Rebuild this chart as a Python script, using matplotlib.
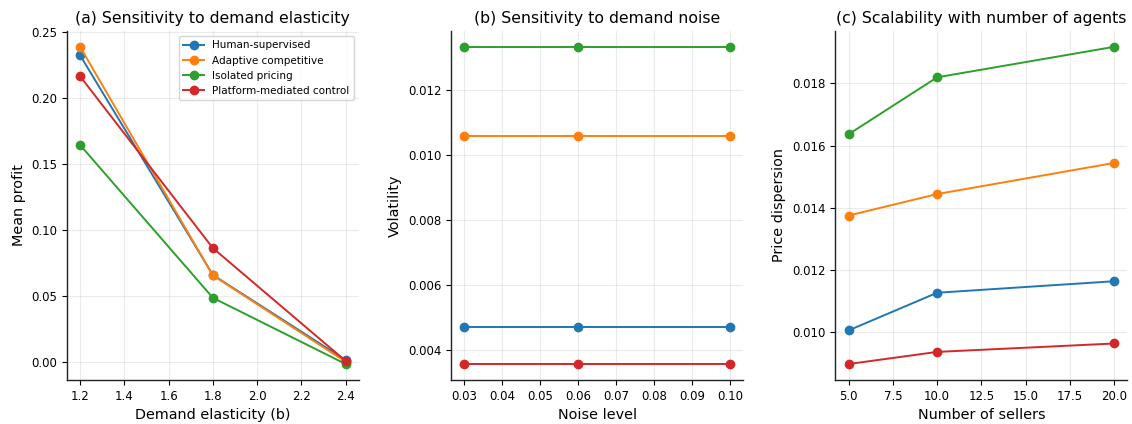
import matplotlib
matplotlib.use("Agg")
import matplotlib.pyplot as plt
from matplotlib.ticker import MultipleLocator

# policies / series names
policies = ["Human-supervised", "Adaptive competitive", "Isolated pricing", "Platform-mediated control"]
colors = ["#1f77b4", "#ff7f0e", "#2ca02c", "#d62728"]

# (a) demand elasticity -> mean profit
elasticity = [1.2, 1.8, 2.4]
profit_human = [0.2326, 0.0660, 0.0015]
profit_adaptive = [0.2390, 0.0657, 0.0002]
profit_isolated = [0.1646, 0.0487, -0.0015]
profit_platform = [0.2167, 0.0864, 0.0008]

# (b) noise level -> volatility
noise = [0.03, 0.06, 0.10]
vol_human = [0.00472, 0.00472, 0.00472]
vol_adaptive = [0.01059, 0.01059, 0.01059]
vol_isolated = [0.01334, 0.01334, 0.01334]
vol_platform = [0.00357, 0.00357, 0.00357]

# (c) number of sellers -> price dispersion
sellers = [5, 10, 20]
disp_human = [0.01006, 0.01127, 0.01164]
disp_adaptive = [0.01375, 0.01444, 0.01544]
disp_isolated = [0.01636, 0.01819, 0.01917]
disp_platform = [0.00898, 0.00937, 0.00964]

panels = [
    ("(a) Sensitivity to demand elasticity", "Demand elasticity (b)", "Mean profit",
     elasticity, [profit_human, profit_adaptive, profit_isolated, profit_platform]),
    ("(b) Sensitivity to demand noise", "Noise level", "Volatility",
     noise, [vol_human, vol_adaptive, vol_isolated, vol_platform]),
    ("(c) Scalability with number of agents", "Number of sellers", "Price dispersion",
     sellers, [disp_human, disp_adaptive, disp_isolated, disp_platform]),
]

fig, axes = plt.subplots(1, 3, figsize=(11.32, 4.24), dpi=100)

for i, (ax, (title, xlabel, ylabel, xs, series)) in enumerate(zip(axes, panels)):
    for name, col, ys in zip(policies, colors, series):
        ax.plot(xs, ys, marker="o", markersize=6, linewidth=1.4, color=col, label=name)
    ax.set_title(title, fontsize=11.3)
    ax.set_xlabel(xlabel, fontsize=10.4)
    ax.set_ylabel(ylabel, fontsize=10.4)
    ax.tick_params(labelsize=8.5)
    ax.grid(True, alpha=0.25)
    ax.spines["top"].set_visible(False)
    ax.spines["right"].set_visible(False)
    for side in ("left", "bottom"):
        ax.spines[side].set_linewidth(1.0)
        ax.spines[side].set_color("#222222")
    if i == 0:
        ax.legend(fontsize=7.5, loc="upper right")
    if i == 1:
        ax.xaxis.set_major_locator(MultipleLocator(0.01))

plt.subplots_adjust(left=0.059, right=0.996, bottom=0.104, top=0.927, wspace=0.315)
plt.savefig("out.png", dpi=100)
